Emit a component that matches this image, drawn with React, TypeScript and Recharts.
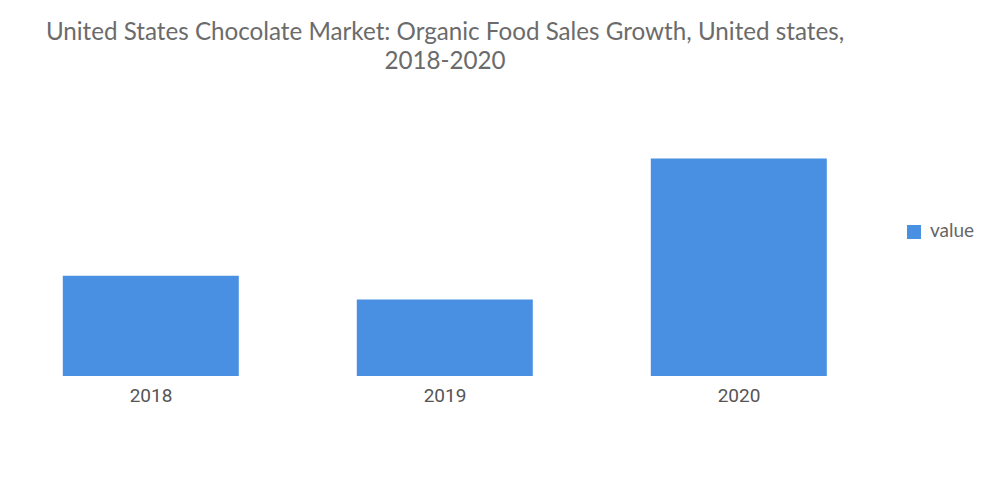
import { BarChart, Bar, XAxis, YAxis, Legend } from "recharts";

const years = ["2018", "2019", "2020"];
const growth = [5.9, 4.5, 12.8];

const data = years.map((year, i) => ({ year, value: growth[i] }));

export default function App() {
  return (
    <div style={{ position: "absolute", left: 0, top: 0, width: 1000, height: 504, background: "#fff" }}>
      <div
        style={{
          position: "absolute",
          left: 0,
          top: 16,
          width: 890,
          textAlign: "center",
          fontFamily: "Lato, 'Noto Sans', sans-serif",
          fontSize: 24.2,
          lineHeight: "29px",
          color: "#6b6b6b",
          zIndex: 1,
        }}
      >
        United States Chocolate Market: Organic Food Sales Growth, United states,
        <br />
        2018-2020
      </div>
      <BarChart
        width={1000}
        height={504}
        data={data}
        margin={{ top: 138, right: 114, bottom: 98, left: 4 }}
        barCategoryGap="20%"
      >
        <XAxis
          dataKey="year"
          axisLine={false}
          tickLine={false}
          height={30}
          dy={5}
          tick={{ fill: "#555", fontSize: 19, fontFamily: "Roboto, sans-serif" }}
        />
        <YAxis hide domain={[0, 14]} />
        <Legend
          layout="horizontal"
          align="center"
          verticalAlign="middle"
          iconType="square"
          iconSize={14}
          wrapperStyle={{ left: 907, top: 218, right: "auto", width: "auto", fontFamily: "Lato, sans-serif", fontSize: 19 }}
          formatter={(v: string) => <span style={{ color: "#666", marginLeft: 5 }}>{v}</span>}
        />
        <Bar dataKey="value" fill="#4a90e2" isAnimationActive={false} />
      </BarChart>
    </div>
  );
}
